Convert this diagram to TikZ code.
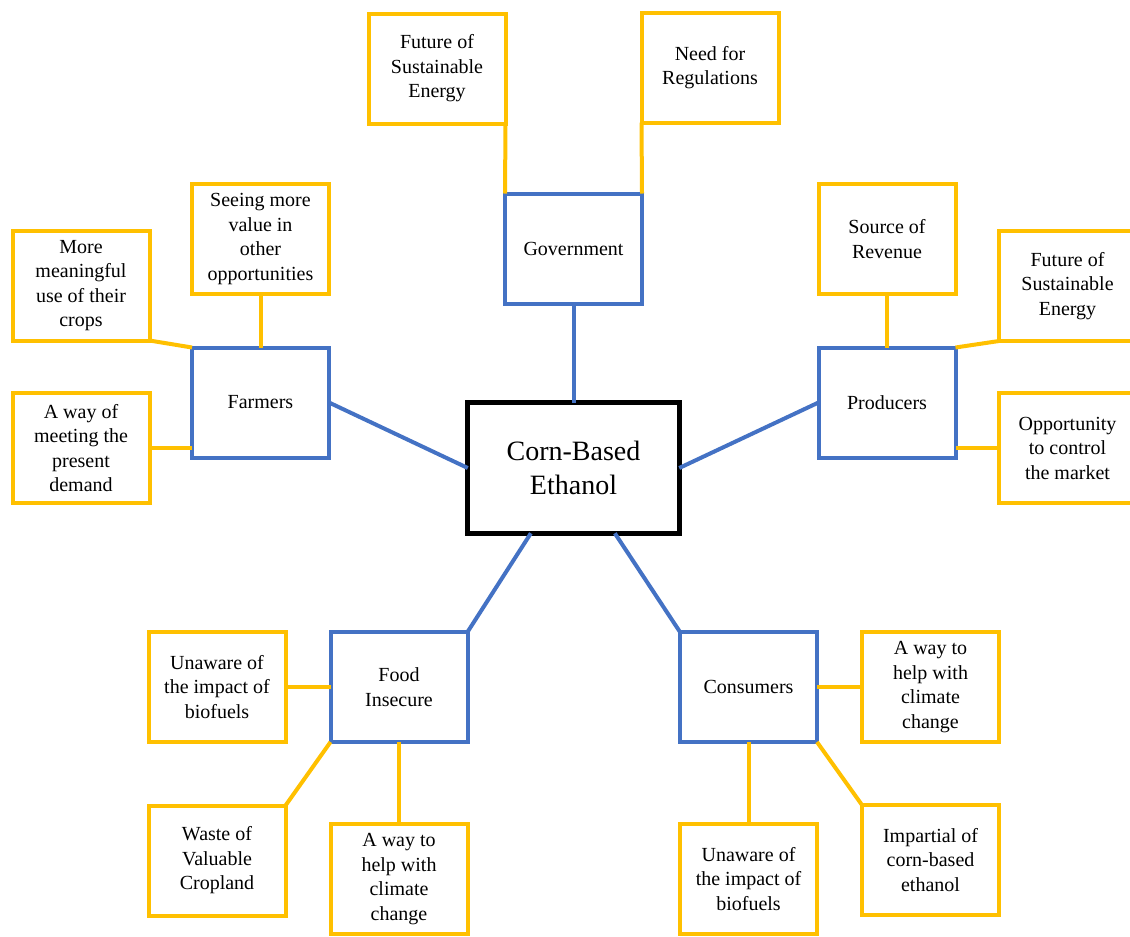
\documentclass[tikz,border=0pt]{standalone}
\usepackage{fontspec}
\setmainfont{Liberation Serif}
\usepackage{tikz}
\definecolor{groupblue}{HTML}{4472C4}
\definecolor{ideagold}{HTML}{FFC000}

\begin{document}
\begin{tikzpicture}[x=0.75pt, y=-0.75pt,
    mainbox/.style={draw=black, line width=3.75pt, fill=white, align=center,
      outer sep=0pt, minimum width=158.6pt, minimum height=97.9pt,
      font=\fontsize{21}{25.5}\selectfont},
    groupbox/.style={draw=groupblue, line width=3pt, fill=white, align=center,
      outer sep=0pt, minimum width=102.75pt, minimum height=82.5pt,
      font=\fontsize{15}{18.4}\selectfont},
    ideabox/.style={draw=ideagold, line width=3pt, fill=white, align=center,
      outer sep=0pt, minimum width=102.75pt, minimum height=82.5pt,
      font=\fontsize{15}{18.4}\selectfont},
    grouplink/.style={draw=groupblue, line width=3pt},
    idealink/.style={draw=ideagold, line width=3pt}]
        \useasboundingbox (0,0) rectangle (1130,936);
        \clip (0,0) rectangle (1130,936);

        % Centre
        \node[mainbox] (ethanol) at (573.5,468) {Corn-Based\\Ethanol};

        % Groups
        \node[groupbox] (gov) at (573.5,248.5) {Government};
        \node[groupbox] (farmers) at (260.5,402.5) {Farmers};
        \node[groupbox] (producers) at (887,402.5) {Producers};
        \node[groupbox] (food) at (399,687) {Food\\Insecure};
        \node[groupbox] (consumers) at (748.5,687) {Consumers};

        % Government ideas
        \node[ideabox] (govfuture) at (437,68.5) {Future of\\Sustainable\\Energy};
        \node[ideabox] (govregs) at (710,67.5) {Need for\\Regulations};

        % Farmers ideas
        \node[ideabox] (farmvalue) at (260.5,239) {Seeing more\\value in\\other\\opportunities};
        \node[ideabox] (farmcrops) at (81,285.5) {More\\meaningful\\use of their\\crops};
        \node[ideabox] (farmdemand) at (81,448) {A way of\\meeting the\\present\\demand};

        % Producers ideas
        \node[ideabox] (prodrevenue) at (887,239) {Source of\\Revenue};
        \node[ideabox] (prodfuture) at (1067.5,286) {Future of\\Sustainable\\Energy};
        \node[ideabox] (prodmarket) at (1067.5,448) {Opportunity\\to control\\the market};

        % Food insecure ideas
        \node[ideabox] (foodunaware) at (217,687) {Unaware of\\the impact of\\biofuels};
        \node[ideabox] (foodwaste) at (217,860.5) {Waste of\\Valuable\\Cropland};
        \node[ideabox] (foodclimate) at (399,879) {A way to\\help with\\climate\\change};

        % Consumers ideas
        \node[ideabox] (consclimate) at (930.5,687) {A way to\\help with\\climate\\change};
        \node[ideabox] (consunaware) at (748.5,879) {Unaware of\\the impact of\\biofuels};
        \node[ideabox] (consimpartial) at (930.5,860) {Impartial of\\corn-based\\ethanol};

        % Links to the centre
        \draw[grouplink] (ethanol.north) -- (gov.south);
        \draw[grouplink] (ethanol.west) -- (farmers.east);
        \draw[grouplink] (ethanol.east) -- (producers.west);
        \draw[grouplink] ([xshift=-32pt]ethanol.south) -- (food.north east);
        \draw[grouplink] ([xshift=31pt]ethanol.south) -- (consumers.north west);

        % Links to the ideas
        \draw[idealink] (govfuture.south east) -- (gov.north west);
        \draw[idealink] (govregs.south west) -- (gov.north east);
        \draw[idealink] (farmvalue.south) -- (farmers.north);
        \draw[idealink] (farmcrops.south east) -- (farmers.north west);
        \draw[idealink] (farmdemand.east) -- (farmdemand.east -| farmers.west);
        \draw[idealink] (prodrevenue.south) -- (producers.north);
        \draw[idealink] (prodfuture.south west) -- (producers.north east);
        \draw[idealink] (prodmarket.west) -- (prodmarket.west -| producers.east);
        \draw[idealink] (foodunaware.east) -- (food.west);
        \draw[idealink] (foodwaste.north east) -- (food.south west);
        \draw[idealink] (foodclimate.north) -- (food.south);
        \draw[idealink] (consclimate.west) -- (consumers.east);
        \draw[idealink] (consunaware.north) -- (consumers.south);
        \draw[idealink] (consimpartial.north west) -- (consumers.south east);
    \end{tikzpicture}
\end{document}
